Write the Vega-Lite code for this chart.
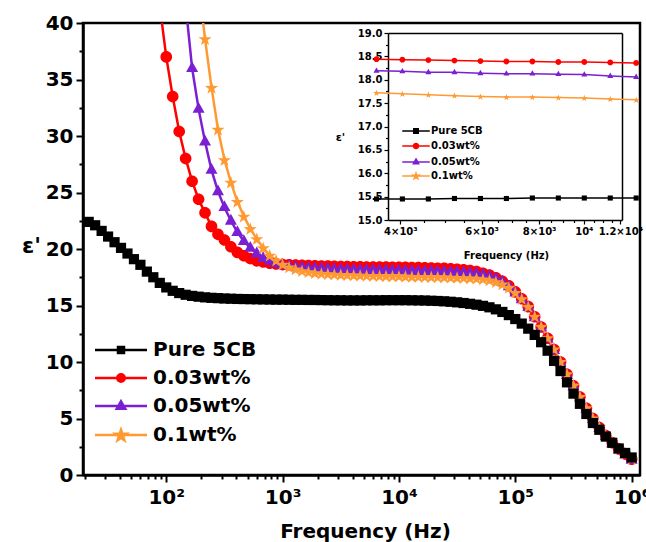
{
"$schema": "https://vega.github.io/schema/vega-lite/v6.json",
"width": 557, "height": 452,
"autosize": {"type": "none"},
"padding": {"left": 83, "top": 23, "right": 6, "bottom": 67},
"background": "white",
"config": {
  "font": "DejaVu Sans",
  "view": {"stroke": "black", "strokeWidth": 2.5},
  "axis": {"domainColor": "black", "tickColor": "black", "labelColor": "black", "titleColor": "black", "grid": false, "labelFont": "DejaVu Sans", "titleFont": "DejaVu Sans", "labelFontWeight": "bold", "titleFontWeight": "bold"},
  "legend": {"labelFont": "DejaVu Sans", "labelFontWeight": "bold", "labelColor": "black"}
},
"datasets": {
"main": [
{"freq":87.99,"series":"0.03wt%","eps":41.5},{"freq":100,"series":"0.03wt%","eps":37.0},{"freq":113.6,"series":"0.03wt%","eps":33.5},{"freq":129.2,"series":"0.03wt%","eps":30.4},{"freq":146.8,"series":"0.03wt%","eps":28.0},{"freq":166.8,"series":"0.03wt%","eps":26.0},{"freq":189.6,"series":"0.03wt%","eps":24.4},{"freq":215.4,"series":"0.03wt%","eps":23.2},{"freq":244.8,"series":"0.03wt%","eps":22.0},{"freq":278.3,"series":"0.03wt%","eps":21.3},{"freq":316.2,"series":"0.03wt%","eps":20.8},{"freq":359.4,"series":"0.03wt%","eps":20.2},{"freq":408.4,"series":"0.03wt%","eps":19.7},{"freq":464.2,"series":"0.03wt%","eps":19.4},{"freq":527.5,"series":"0.03wt%","eps":19.15},{"freq":599.5,"series":"0.03wt%","eps":18.95},{"freq":681.3,"series":"0.03wt%","eps":18.85},{"freq":774.3,"series":"0.03wt%","eps":18.75},{"freq":879.9,"series":"0.03wt%","eps":18.68},{"freq":1000,"series":"0.03wt%","eps":18.62},{"freq":1136,"series":"0.03wt%","eps":18.6},{"freq":1292,"series":"0.03wt%","eps":18.58},{"freq":1468,"series":"0.03wt%","eps":18.56},{"freq":1668,"series":"0.03wt%","eps":18.54},{"freq":1896,"series":"0.03wt%","eps":18.52},{"freq":2154,"series":"0.03wt%","eps":18.5},{"freq":2448,"series":"0.03wt%","eps":18.48},{"freq":2783,"series":"0.03wt%","eps":18.46},{"freq":3162,"series":"0.03wt%","eps":18.45},{"freq":3594,"series":"0.03wt%","eps":18.44},{"freq":4084,"series":"0.03wt%","eps":18.43},{"freq":4642,"series":"0.03wt%","eps":18.42},{"freq":5275,"series":"0.03wt%","eps":18.41},{"freq":5995,"series":"0.03wt%","eps":18.4},{"freq":6813,"series":"0.03wt%","eps":18.39},{"freq":7743,"series":"0.03wt%","eps":18.39},{"freq":8799,"series":"0.03wt%","eps":18.38},{"freq":10000,"series":"0.03wt%","eps":18.38},{"freq":11360,"series":"0.03wt%","eps":18.37},{"freq":12920,"series":"0.03wt%","eps":18.36},{"freq":14680,"series":"0.03wt%","eps":18.35},{"freq":16680,"series":"0.03wt%","eps":18.34},{"freq":18960,"series":"0.03wt%","eps":18.32},{"freq":21540,"series":"0.03wt%","eps":18.3},{"freq":24480,"series":"0.03wt%","eps":18.28},{"freq":27830,"series":"0.03wt%","eps":18.25},{"freq":31620,"series":"0.03wt%","eps":18.2},{"freq":35940,"series":"0.03wt%","eps":18.15},{"freq":40840,"series":"0.03wt%","eps":18.1},{"freq":46420,"series":"0.03wt%","eps":18.0},{"freq":52750,"series":"0.03wt%","eps":17.85},{"freq":59950,"series":"0.03wt%","eps":17.7},{"freq":68130,"series":"0.03wt%","eps":17.45},{"freq":77430,"series":"0.03wt%","eps":17.15},{"freq":87990,"series":"0.03wt%","eps":16.75},{"freq":100000,"series":"0.03wt%","eps":16.2},{"freq":113600,"series":"0.03wt%","eps":15.6},{"freq":129200,"series":"0.03wt%","eps":14.9},{"freq":146800,"series":"0.03wt%","eps":14.0},{"freq":166800,"series":"0.03wt%","eps":13.1},{"freq":189600,"series":"0.03wt%","eps":12.1},{"freq":215400,"series":"0.03wt%","eps":11.1},{"freq":244800,"series":"0.03wt%","eps":10.0},{"freq":278300,"series":"0.03wt%","eps":8.9},{"freq":316200,"series":"0.03wt%","eps":7.9},{"freq":359400,"series":"0.03wt%","eps":6.9},{"freq":408400,"series":"0.03wt%","eps":5.9},{"freq":464200,"series":"0.03wt%","eps":5.0},{"freq":527500,"series":"0.03wt%","eps":4.2},{"freq":599500,"series":"0.03wt%","eps":3.5},{"freq":681300,"series":"0.03wt%","eps":2.85},{"freq":774300,"series":"0.03wt%","eps":2.3},{"freq":879900,"series":"0.03wt%","eps":1.85},{"freq":1000000,"series":"0.03wt%","eps":1.4},
{"freq":146.8,"series":"0.05wt%","eps":41.6},{"freq":166.8,"series":"0.05wt%","eps":36.0},{"freq":189.6,"series":"0.05wt%","eps":32.4},{"freq":215.4,"series":"0.05wt%","eps":29.5},{"freq":244.8,"series":"0.05wt%","eps":27.0},{"freq":278.3,"series":"0.05wt%","eps":25.1},{"freq":316.2,"series":"0.05wt%","eps":23.7},{"freq":359.4,"series":"0.05wt%","eps":22.5},{"freq":408.4,"series":"0.05wt%","eps":21.5},{"freq":464.2,"series":"0.05wt%","eps":20.7},{"freq":527.5,"series":"0.05wt%","eps":20.1},{"freq":599.5,"series":"0.05wt%","eps":19.6},{"freq":681.3,"series":"0.05wt%","eps":19.2},{"freq":774.3,"series":"0.05wt%","eps":18.95},{"freq":879.9,"series":"0.05wt%","eps":18.75},{"freq":1000,"series":"0.05wt%","eps":18.6},{"freq":1136,"series":"0.05wt%","eps":18.5},{"freq":1292,"series":"0.05wt%","eps":18.42},{"freq":1468,"series":"0.05wt%","eps":18.37},{"freq":1668,"series":"0.05wt%","eps":18.32},{"freq":1896,"series":"0.05wt%","eps":18.29},{"freq":2154,"series":"0.05wt%","eps":18.26},{"freq":2448,"series":"0.05wt%","eps":18.23},{"freq":2783,"series":"0.05wt%","eps":18.21},{"freq":3162,"series":"0.05wt%","eps":18.19},{"freq":3594,"series":"0.05wt%","eps":18.18},{"freq":4084,"series":"0.05wt%","eps":18.17},{"freq":4642,"series":"0.05wt%","eps":18.16},{"freq":5275,"series":"0.05wt%","eps":18.15},{"freq":5995,"series":"0.05wt%","eps":18.14},{"freq":6813,"series":"0.05wt%","eps":18.13},{"freq":7743,"series":"0.05wt%","eps":18.12},{"freq":8799,"series":"0.05wt%","eps":18.11},{"freq":10000,"series":"0.05wt%","eps":18.1},{"freq":11360,"series":"0.05wt%","eps":18.08},{"freq":12920,"series":"0.05wt%","eps":18.06},{"freq":14680,"series":"0.05wt%","eps":18.05},{"freq":16680,"series":"0.05wt%","eps":18.04},{"freq":18960,"series":"0.05wt%","eps":18.03},{"freq":21540,"series":"0.05wt%","eps":18.02},{"freq":24480,"series":"0.05wt%","eps":18.0},{"freq":27830,"series":"0.05wt%","eps":17.98},{"freq":31620,"series":"0.05wt%","eps":17.95},{"freq":35940,"series":"0.05wt%","eps":17.92},{"freq":40840,"series":"0.05wt%","eps":17.88},{"freq":46420,"series":"0.05wt%","eps":17.82},{"freq":52750,"series":"0.05wt%","eps":17.72},{"freq":59950,"series":"0.05wt%","eps":17.58},{"freq":68130,"series":"0.05wt%","eps":17.38},{"freq":77430,"series":"0.05wt%","eps":17.1},{"freq":87990,"series":"0.05wt%","eps":16.7},{"freq":100000,"series":"0.05wt%","eps":16.15},{"freq":113600,"series":"0.05wt%","eps":15.55},{"freq":129200,"series":"0.05wt%","eps":14.85},{"freq":146800,"series":"0.05wt%","eps":13.95},{"freq":166800,"series":"0.05wt%","eps":13.05},{"freq":189600,"series":"0.05wt%","eps":12.05},{"freq":215400,"series":"0.05wt%","eps":11.05},{"freq":244800,"series":"0.05wt%","eps":9.95},{"freq":278300,"series":"0.05wt%","eps":8.85},{"freq":316200,"series":"0.05wt%","eps":7.85},{"freq":359400,"series":"0.05wt%","eps":6.85},{"freq":408400,"series":"0.05wt%","eps":5.85},{"freq":464200,"series":"0.05wt%","eps":4.95},{"freq":527500,"series":"0.05wt%","eps":4.15},{"freq":599500,"series":"0.05wt%","eps":3.45},{"freq":681300,"series":"0.05wt%","eps":2.8},{"freq":774300,"series":"0.05wt%","eps":2.25},{"freq":879900,"series":"0.05wt%","eps":1.8},{"freq":1000000,"series":"0.05wt%","eps":1.35},
{"freq":189.6,"series":"0.1wt%","eps":43.5},{"freq":215.4,"series":"0.1wt%","eps":38.6},{"freq":244.8,"series":"0.1wt%","eps":34.3},{"freq":278.3,"series":"0.1wt%","eps":30.6},{"freq":316.2,"series":"0.1wt%","eps":27.9},{"freq":359.4,"series":"0.1wt%","eps":25.9},{"freq":408.4,"series":"0.1wt%","eps":24.2},{"freq":464.2,"series":"0.1wt%","eps":22.9},{"freq":527.5,"series":"0.1wt%","eps":21.8},{"freq":599.5,"series":"0.1wt%","eps":20.9},{"freq":681.3,"series":"0.1wt%","eps":20.1},{"freq":774.3,"series":"0.1wt%","eps":19.45},{"freq":879.9,"series":"0.1wt%","eps":19.0},{"freq":1000,"series":"0.1wt%","eps":18.65},{"freq":1136,"series":"0.1wt%","eps":18.4},{"freq":1292,"series":"0.1wt%","eps":18.22},{"freq":1468,"series":"0.1wt%","eps":18.08},{"freq":1668,"series":"0.1wt%","eps":17.98},{"freq":1896,"series":"0.1wt%","eps":17.9},{"freq":2154,"series":"0.1wt%","eps":17.84},{"freq":2448,"series":"0.1wt%","eps":17.8},{"freq":2783,"series":"0.1wt%","eps":17.77},{"freq":3162,"series":"0.1wt%","eps":17.74},{"freq":3594,"series":"0.1wt%","eps":17.72},{"freq":4084,"series":"0.1wt%","eps":17.7},{"freq":4642,"series":"0.1wt%","eps":17.68},{"freq":5275,"series":"0.1wt%","eps":17.66},{"freq":5995,"series":"0.1wt%","eps":17.65},{"freq":6813,"series":"0.1wt%","eps":17.63},{"freq":7743,"series":"0.1wt%","eps":17.62},{"freq":8799,"series":"0.1wt%","eps":17.61},{"freq":10000,"series":"0.1wt%","eps":17.6},{"freq":11360,"series":"0.1wt%","eps":17.58},{"freq":12920,"series":"0.1wt%","eps":17.57},{"freq":14680,"series":"0.1wt%","eps":17.56},{"freq":16680,"series":"0.1wt%","eps":17.55},{"freq":18960,"series":"0.1wt%","eps":17.54},{"freq":21540,"series":"0.1wt%","eps":17.53},{"freq":24480,"series":"0.1wt%","eps":17.52},{"freq":27830,"series":"0.1wt%","eps":17.5},{"freq":31620,"series":"0.1wt%","eps":17.48},{"freq":35940,"series":"0.1wt%","eps":17.46},{"freq":40840,"series":"0.1wt%","eps":17.43},{"freq":46420,"series":"0.1wt%","eps":17.4},{"freq":52750,"series":"0.1wt%","eps":17.35},{"freq":59950,"series":"0.1wt%","eps":17.25},{"freq":68130,"series":"0.1wt%","eps":17.1},{"freq":77430,"series":"0.1wt%","eps":16.9},{"freq":87990,"series":"0.1wt%","eps":16.6},{"freq":100000,"series":"0.1wt%","eps":16.15},{"freq":113600,"series":"0.1wt%","eps":15.6},{"freq":129200,"series":"0.1wt%","eps":14.9},{"freq":146800,"series":"0.1wt%","eps":14.05},{"freq":166800,"series":"0.1wt%","eps":13.15},{"freq":189600,"series":"0.1wt%","eps":12.15},{"freq":215400,"series":"0.1wt%","eps":11.15},{"freq":244800,"series":"0.1wt%","eps":10.05},{"freq":278300,"series":"0.1wt%","eps":8.95},{"freq":316200,"series":"0.1wt%","eps":7.95},{"freq":359400,"series":"0.1wt%","eps":6.95},{"freq":408400,"series":"0.1wt%","eps":5.95},{"freq":464200,"series":"0.1wt%","eps":5.05},{"freq":527500,"series":"0.1wt%","eps":4.25},{"freq":599500,"series":"0.1wt%","eps":3.55},{"freq":681300,"series":"0.1wt%","eps":2.9},{"freq":774300,"series":"0.1wt%","eps":2.35},{"freq":879900,"series":"0.1wt%","eps":1.9},{"freq":1000000,"series":"0.1wt%","eps":1.45},
{"freq":21.54,"series":"Pure 5CB","eps":22.4},{"freq":24.48,"series":"Pure 5CB","eps":22.1},{"freq":27.83,"series":"Pure 5CB","eps":21.6},{"freq":31.62,"series":"Pure 5CB","eps":21.1},{"freq":35.94,"series":"Pure 5CB","eps":20.6},{"freq":40.84,"series":"Pure 5CB","eps":20.1},{"freq":46.42,"series":"Pure 5CB","eps":19.6},{"freq":52.75,"series":"Pure 5CB","eps":19.1},{"freq":59.95,"series":"Pure 5CB","eps":18.6},{"freq":68.13,"series":"Pure 5CB","eps":18.0},{"freq":77.43,"series":"Pure 5CB","eps":17.5},{"freq":87.99,"series":"Pure 5CB","eps":17.0},{"freq":100,"series":"Pure 5CB","eps":16.6},{"freq":113.6,"series":"Pure 5CB","eps":16.3},{"freq":129.2,"series":"Pure 5CB","eps":16.1},{"freq":146.8,"series":"Pure 5CB","eps":15.95},{"freq":166.8,"series":"Pure 5CB","eps":15.85},{"freq":189.6,"series":"Pure 5CB","eps":15.78},{"freq":215.4,"series":"Pure 5CB","eps":15.72},{"freq":244.8,"series":"Pure 5CB","eps":15.68},{"freq":278.3,"series":"Pure 5CB","eps":15.65},{"freq":316.2,"series":"Pure 5CB","eps":15.62},{"freq":359.4,"series":"Pure 5CB","eps":15.6},{"freq":408.4,"series":"Pure 5CB","eps":15.58},{"freq":464.2,"series":"Pure 5CB","eps":15.57},{"freq":527.5,"series":"Pure 5CB","eps":15.56},{"freq":599.5,"series":"Pure 5CB","eps":15.55},{"freq":681.3,"series":"Pure 5CB","eps":15.54},{"freq":774.3,"series":"Pure 5CB","eps":15.53},{"freq":879.9,"series":"Pure 5CB","eps":15.52},{"freq":1000,"series":"Pure 5CB","eps":15.52},{"freq":1136,"series":"Pure 5CB","eps":15.51},{"freq":1292,"series":"Pure 5CB","eps":15.5},{"freq":1468,"series":"Pure 5CB","eps":15.5},{"freq":1668,"series":"Pure 5CB","eps":15.49},{"freq":1896,"series":"Pure 5CB","eps":15.49},{"freq":2154,"series":"Pure 5CB","eps":15.48},{"freq":2448,"series":"Pure 5CB","eps":15.47},{"freq":2783,"series":"Pure 5CB","eps":15.46},{"freq":3162,"series":"Pure 5CB","eps":15.46},{"freq":3594,"series":"Pure 5CB","eps":15.45},{"freq":4084,"series":"Pure 5CB","eps":15.45},{"freq":4642,"series":"Pure 5CB","eps":15.45},{"freq":5275,"series":"Pure 5CB","eps":15.46},{"freq":5995,"series":"Pure 5CB","eps":15.46},{"freq":6813,"series":"Pure 5CB","eps":15.46},{"freq":7743,"series":"Pure 5CB","eps":15.47},{"freq":8799,"series":"Pure 5CB","eps":15.47},{"freq":10000,"series":"Pure 5CB","eps":15.47},{"freq":11360,"series":"Pure 5CB","eps":15.47},{"freq":12920,"series":"Pure 5CB","eps":15.46},{"freq":14680,"series":"Pure 5CB","eps":15.45},{"freq":16680,"series":"Pure 5CB","eps":15.44},{"freq":18960,"series":"Pure 5CB","eps":15.42},{"freq":21540,"series":"Pure 5CB","eps":15.4},{"freq":24480,"series":"Pure 5CB","eps":15.37},{"freq":27830,"series":"Pure 5CB","eps":15.33},{"freq":31620,"series":"Pure 5CB","eps":15.28},{"freq":35940,"series":"Pure 5CB","eps":15.22},{"freq":40840,"series":"Pure 5CB","eps":15.15},{"freq":46420,"series":"Pure 5CB","eps":15.07},{"freq":52750,"series":"Pure 5CB","eps":14.97},{"freq":59950,"series":"Pure 5CB","eps":14.84},{"freq":68130,"series":"Pure 5CB","eps":14.66},{"freq":77430,"series":"Pure 5CB","eps":14.43},{"freq":87990,"series":"Pure 5CB","eps":14.15},{"freq":100000,"series":"Pure 5CB","eps":13.8},{"freq":113600,"series":"Pure 5CB","eps":13.4},{"freq":129200,"series":"Pure 5CB","eps":12.95},{"freq":146800,"series":"Pure 5CB","eps":12.4},{"freq":166800,"series":"Pure 5CB","eps":11.75},{"freq":189600,"series":"Pure 5CB","eps":11.0},{"freq":215400,"series":"Pure 5CB","eps":10.1},{"freq":244800,"series":"Pure 5CB","eps":9.2},{"freq":278300,"series":"Pure 5CB","eps":8.2},{"freq":316200,"series":"Pure 5CB","eps":7.2},{"freq":359400,"series":"Pure 5CB","eps":6.3},{"freq":408400,"series":"Pure 5CB","eps":5.4},{"freq":464200,"series":"Pure 5CB","eps":4.6},{"freq":527500,"series":"Pure 5CB","eps":4.0},{"freq":599500,"series":"Pure 5CB","eps":3.4},{"freq":681300,"series":"Pure 5CB","eps":2.85},{"freq":774300,"series":"Pure 5CB","eps":2.35},{"freq":879900,"series":"Pure 5CB","eps":1.95},{"freq":1000000,"series":"Pure 5CB","eps":1.55}
],
"inset": [
{"freq":3550,"series":"0.03wt%","eps":18.44},{"freq":4040,"series":"0.03wt%","eps":18.43},{"freq":4600,"series":"0.03wt%","eps":18.42},{"freq":5240,"series":"0.03wt%","eps":18.41},{"freq":5966,"series":"0.03wt%","eps":18.4},{"freq":6792,"series":"0.03wt%","eps":18.39},{"freq":7733,"series":"0.03wt%","eps":18.39},{"freq":8804,"series":"0.03wt%","eps":18.38},{"freq":10023,"series":"0.03wt%","eps":18.38},{"freq":11411,"series":"0.03wt%","eps":18.37},{"freq":12990,"series":"0.03wt%","eps":18.36},
{"freq":3550,"series":"0.05wt%","eps":18.19},{"freq":4040,"series":"0.05wt%","eps":18.18},{"freq":4600,"series":"0.05wt%","eps":18.16},{"freq":5240,"series":"0.05wt%","eps":18.16},{"freq":5966,"series":"0.05wt%","eps":18.14},{"freq":6792,"series":"0.05wt%","eps":18.13},{"freq":7733,"series":"0.05wt%","eps":18.13},{"freq":8804,"series":"0.05wt%","eps":18.12},{"freq":10023,"series":"0.05wt%","eps":18.11},{"freq":11411,"series":"0.05wt%","eps":18.08},{"freq":12990,"series":"0.05wt%","eps":18.06},
{"freq":3550,"series":"0.1wt%","eps":17.72},{"freq":4040,"series":"0.1wt%","eps":17.7},{"freq":4600,"series":"0.1wt%","eps":17.68},{"freq":5240,"series":"0.1wt%","eps":17.66},{"freq":5966,"series":"0.1wt%","eps":17.64},{"freq":6792,"series":"0.1wt%","eps":17.63},{"freq":7733,"series":"0.1wt%","eps":17.63},{"freq":8804,"series":"0.1wt%","eps":17.62},{"freq":10023,"series":"0.1wt%","eps":17.61},{"freq":11411,"series":"0.1wt%","eps":17.59},{"freq":12990,"series":"0.1wt%","eps":17.57},
{"freq":3550,"series":"Pure 5CB","eps":15.45},{"freq":4040,"series":"Pure 5CB","eps":15.45},{"freq":4600,"series":"Pure 5CB","eps":15.45},{"freq":5240,"series":"Pure 5CB","eps":15.46},{"freq":5966,"series":"Pure 5CB","eps":15.46},{"freq":6792,"series":"Pure 5CB","eps":15.46},{"freq":7733,"series":"Pure 5CB","eps":15.47},{"freq":8804,"series":"Pure 5CB","eps":15.47},{"freq":10023,"series":"Pure 5CB","eps":15.47},{"freq":11411,"series":"Pure 5CB","eps":15.47},{"freq":12990,"series":"Pure 5CB","eps":15.47}
]
},
"layer": [
    {
      "data": {"name": "main"},
      "mark": {"type": "line", "strokeWidth": 2.5, "clip": true},
      "encoding": {
        "x": {"field": "freq", "type": "quantitative",
          "scale": {"type": "log", "domain": [19.25, 1180000], "nice": false},
          "axis": {"orient": "bottom", "values": [20,30,40,50,60,70,80,90,100,200,300,400,500,600,700,800,900,1000,2000,3000,4000,5000,6000,7000,8000,9000,10000,20000,30000,40000,50000,60000,70000,80000,90000,100000,200000,300000,400000,500000,600000,700000,800000,900000,1000000],
            "labelExpr": "datum.value==100?'10²':datum.value==1000?'10³':datum.value==10000?'10⁴':datum.value==100000?'10⁵':datum.value==1000000?'10⁶':''",
            "tickSize": {"condition": {"test": "indexof([100,1000,10000,100000,1000000], datum.value) >= 0", "value": 7}, "value": 4},
            "tickWidth": 2, "domainWidth": 2.5, "labelFontSize": 20, "labelPadding": 5,
            "labelOverlap": false, "labelBound": false, "labelFlush": false,
            "title": "Frequency (Hz)", "titleFontSize": 20, "titleX": 282, "titleY": 62, "titleBaseline": "alphabetic", "titleAlign": "center"}},
        "y": {"field": "eps", "type": "quantitative",
          "scale": {"domain": [0, 40], "nice": false},
          "axis": {"orient": "left", "values": [0,2.5,5,7.5,10,12.5,15,17.5,20,22.5,25,27.5,30,32.5,35,37.5,40],
            "labelExpr": "datum.value % 5 === 0 ? format(datum.value, 'd') : ''",
            "tickSize": {"condition": {"test": "datum.value % 5 === 0", "value": 7}, "value": 4},
            "tickWidth": 2, "domainWidth": 2.5, "labelFontSize": 20, "labelPadding": 3, "labelOverlap": false,
            "title": "ε'", "titleAngle": 0, "titleFontSize": 22, "titleX": -52, "titleY": 222, "titleAlign": "center", "titleBaseline": "middle"}},
        "color": {"field": "series", "type": "nominal",
          "scale": {"domain": ["Pure 5CB","0.03wt%","0.05wt%","0.1wt%"], "range": ["#000000","#ff0000","#7a1fd2","#ff9a33"]},
          "legend": null}
      }
    },
    {
      "data": {"name": "main"},
      "mark": {"type": "point", "filled": true, "opacity": 1, "size": 144, "strokeWidth": 0, "clip": true},
      "encoding": {
        "x": {"field": "freq", "type": "quantitative", "scale": {"type": "log", "domain": [19.25, 1180000], "nice": false}, "axis": null},
        "y": {"field": "eps", "type": "quantitative", "scale": {"domain": [0, 40], "nice": false}, "axis": null},
        "color": {"field": "series", "type": "nominal",
          "scale": {"domain": ["Pure 5CB","0.03wt%","0.05wt%","0.1wt%"], "range": ["#000000","#ff0000","#7a1fd2","#ff9a33"]},
          "legend": null},
        "shape": {"field": "series", "type": "nominal",
          "scale": {"domain": ["Pure 5CB","0.03wt%","0.05wt%","0.1wt%"], "range": ["M-0.85,-0.85H0.85V0.85H-0.85Z","M0.97,0A0.97,0.97,0,1,1,-0.97,0A0.97,0.97,0,1,1,0.97,0Z","M0,-1.15L1,0.65H-1Z","M0,-1.04L0.27,-0.26L1.09,-0.25L0.44,0.25L0.68,1.04L0,0.57L-0.68,1.04L-0.44,0.25L-1.09,-0.25L-0.27,-0.26Z"]},
          "legend": null}
      }
    },
    {
      "data": {"name": "main"},
      "mark": {"type": "point", "filled": true, "opacity": 0, "size": 100},
      "encoding": {
        "x": {"field": "freq", "type": "quantitative", "scale": {"type": "log", "domain": [19.25, 1180000], "nice": false}, "axis": null},
        "y": {"field": "eps", "type": "quantitative", "scale": {"domain": [0, 40], "nice": false}, "axis": null},
        "fill": {"field": "series", "type": "nominal",
          "scale": {"domain": ["Pure 5CB","0.03wt%","0.05wt%","0.1wt%"], "range": ["#000000","#ff0000","#7a1fd2","#ff9a33"]},
          "legend": {"orient": "none", "legendX": 28, "legendY": 317, "title": null, "padding": 0, "labelFontSize": 20, "symbolSize": 100, "labelOffset": 22, "rowPadding": 8, "symbolStrokeWidth": 2.5, "symbolOpacity": 1}},
        "stroke": {"field": "series", "type": "nominal",
          "scale": {"domain": ["Pure 5CB","0.03wt%","0.05wt%","0.1wt%"], "range": ["#000000","#ff0000","#7a1fd2","#ff9a33"]},
          "legend": {"orient": "none", "legendX": 28, "legendY": 317, "title": null, "padding": 0, "labelFontSize": 20, "symbolSize": 100, "labelOffset": 22, "rowPadding": 8, "symbolStrokeWidth": 2.5, "symbolOpacity": 1}},
        "shape": {"field": "series", "type": "nominal",
          "scale": {"domain": ["Pure 5CB","0.03wt%","0.05wt%","0.1wt%"], "range": ["M-5.2,0H5.2M-0.6,-0.6H0.6V0.6H-0.6Z","M-5.2,0H5.2M0.75,0A0.75,0.75,0,1,1,-0.75,0A0.75,0.75,0,1,1,0.75,0Z","M-5.2,0H5.2M0,-0.95L0.85,0.55H-0.85Z","M-5.2,0H5.2M0,-1.04L0.27,-0.26L1.09,-0.25L0.44,0.25L0.68,1.04L0,0.57L-0.68,1.04L-0.44,0.25L-1.09,-0.25L-0.27,-0.26Z"]},
          "legend": {"orient": "none", "legendX": 28, "legendY": 317, "title": null, "padding": 0, "labelFontSize": 20, "symbolSize": 100, "labelOffset": 22, "rowPadding": 8, "symbolStrokeWidth": 2.5, "symbolOpacity": 1}}
      }
    },
    {
      "data": {"name": "inset"},
      "mark": {"type": "line", "strokeWidth": 1.5, "clip": true},
      "encoding": {
        "x": {"field": "freq", "type": "quantitative",
          "scale": {"type": "log", "domain": [3760, 12100], "nice": false, "range": [305, 539]},
          "axis": {"orient": "bottom", "offset": -255, "values": [4000,4500,5000,5500,6000,6500,7000,7500,8000,8500,9000,9500,10000,10500,11000,11500,12000],
            "labelExpr": "datum.value==4000?'4×10³':datum.value==6000?'6×10³':datum.value==8000?'8×10³':datum.value==10000?'10⁴':datum.value==12000?'1.2×10⁴':''",
            "tickSize": {"condition": {"test": "indexof([4000,6000,8000,10000,12000], datum.value) >= 0", "value": 4}, "value": 2.5},
            "tickWidth": 1.2, "domainWidth": 1.5, "labelFontSize": 10, "labelPadding": 2,
            "labelOverlap": false, "labelBound": false, "labelFlush": false,
            "title": "Frequency (Hz)", "titleFontSize": 10, "titleX": 423, "titleY": 35, "titleBaseline": "middle", "titleAlign": "center"}},
        "y": {"field": "eps", "type": "quantitative",
          "scale": {"domain": [15, 19], "nice": false, "range": [197, 10]},
          "axis": {"orient": "left", "offset": -305, "values": [15,15.25,15.5,15.75,16,16.25,16.5,16.75,17,17.25,17.5,17.75,18,18.25,18.5,18.75,19],
            "labelExpr": "datum.value % 0.5 === 0 ? format(datum.value, '.1f') : ''",
            "tickSize": {"condition": {"test": "datum.value % 0.5 === 0", "value": 4}, "value": 2.5},
            "tickWidth": 1.2, "domainWidth": 1.5, "labelFontSize": 10, "labelPadding": 2, "labelOverlap": false,
            "title": "ε'", "titleAngle": 0, "titleFontSize": 11, "titleX": -48, "titleY": 114, "titleAlign": "center", "titleBaseline": "middle"}},
        "color": {"field": "series", "type": "nominal",
          "scale": {"domain": ["Pure 5CB","0.03wt%","0.05wt%","0.1wt%"], "range": ["#000000","#ff0000","#7a1fd2","#ff9a33"]},
          "legend": null}
      }
    },
    {
      "data": {"name": "inset"},
      "mark": {"type": "point", "filled": true, "opacity": 1, "size": 36, "strokeWidth": 0, "clip": true},
      "encoding": {
        "x": {"field": "freq", "type": "quantitative",
          "scale": {"type": "log", "domain": [3760, 12100], "nice": false, "range": [305, 539]},
          "axis": {"orient": "top", "offset": -10, "labels": false, "ticks": false, "title": null, "domainWidth": 1.5}},
        "y": {"field": "eps", "type": "quantitative",
          "scale": {"domain": [15, 19], "nice": false, "range": [197, 10]},
          "axis": {"orient": "right", "offset": -18, "labels": false, "ticks": false, "title": null, "domainWidth": 1.5}},
        "color": {"field": "series", "type": "nominal",
          "scale": {"domain": ["Pure 5CB","0.03wt%","0.05wt%","0.1wt%"], "range": ["#000000","#ff0000","#7a1fd2","#ff9a33"]},
          "legend": null},
        "shape": {"field": "series", "type": "nominal",
          "scale": {"domain": ["Pure 5CB","0.03wt%","0.05wt%","0.1wt%"], "range": ["M-0.85,-0.85H0.85V0.85H-0.85Z","M0.97,0A0.97,0.97,0,1,1,-0.97,0A0.97,0.97,0,1,1,0.97,0Z","M0,-1.15L1,0.65H-1Z","M0,-1.04L0.27,-0.26L1.09,-0.25L0.44,0.25L0.68,1.04L0,0.57L-0.68,1.04L-0.44,0.25L-1.09,-0.25L-0.27,-0.26Z"]},
          "legend": null}
      }
    },
    {
      "data": {"name": "inset"},
      "mark": {"type": "point", "filled": true, "opacity": 0, "size": 28},
      "encoding": {
        "x": {"field": "freq", "type": "quantitative", "scale": {"type": "log", "domain": [3760, 12100], "nice": false, "range": [305, 539]}, "axis": null},
        "y": {"field": "eps", "type": "quantitative", "scale": {"domain": [15, 19], "nice": false, "range": [197, 10]}, "axis": null},
        "fill": {"field": "series", "type": "nominal",
          "scale": {"domain": ["Pure 5CB","0.03wt%","0.05wt%","0.1wt%"], "range": ["#000000","#ff0000","#7a1fd2","#ff9a33"]},
          "legend": {"orient": "none", "legendX": 328, "legendY": 103, "title": null, "padding": 0, "labelFontSize": 10, "symbolSize": 28, "labelOffset": 10, "rowPadding": 3, "symbolStrokeWidth": 1.5, "symbolOpacity": 1}},
        "stroke": {"field": "series", "type": "nominal",
          "scale": {"domain": ["Pure 5CB","0.03wt%","0.05wt%","0.1wt%"], "range": ["#000000","#ff0000","#7a1fd2","#ff9a33"]},
          "legend": {"orient": "none", "legendX": 328, "legendY": 103, "title": null, "padding": 0, "labelFontSize": 10, "symbolSize": 28, "labelOffset": 10, "rowPadding": 3, "symbolStrokeWidth": 1.5, "symbolOpacity": 1}},
        "shape": {"field": "series", "type": "nominal",
          "scale": {"domain": ["Pure 5CB","0.03wt%","0.05wt%","0.1wt%"], "range": ["M-5.2,0H5.2M-0.85,-0.85H0.85V0.85H-0.85Z","M-5.2,0H5.2M0.97,0A0.97,0.97,0,1,1,-0.97,0A0.97,0.97,0,1,1,0.97,0Z","M-5.2,0H5.2M0,-1.15L1,0.65H-1Z","M-5.2,0H5.2M0,-1.04L0.27,-0.26L1.09,-0.25L0.44,0.25L0.68,1.04L0,0.57L-0.68,1.04L-0.44,0.25L-1.09,-0.25L-0.27,-0.26Z"]},
          "legend": {"orient": "none", "legendX": 328, "legendY": 103, "title": null, "padding": 0, "labelFontSize": 10, "symbolSize": 28, "labelOffset": 10, "rowPadding": 3, "symbolStrokeWidth": 1.5, "symbolOpacity": 1}}
      }
    }
],
"resolve": {
  "scale": {"x": "independent", "y": "independent", "color": "independent", "fill": "independent", "stroke": "independent", "shape": "independent"},
  "axis": {"x": "independent", "y": "independent"},
  "legend": {"color": "independent", "fill": "independent", "stroke": "independent", "shape": "independent"}
}
}
